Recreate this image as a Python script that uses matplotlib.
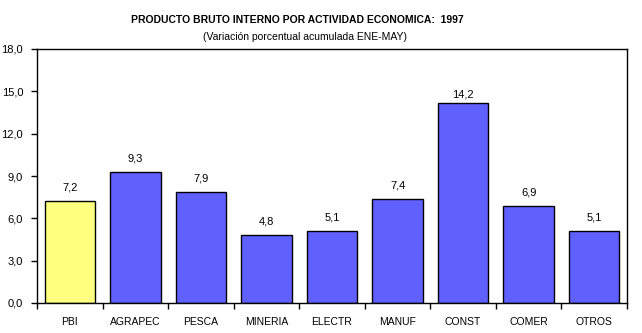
import matplotlib.pyplot as plt
import numpy as np

plt.rcParams['font.family'] = ['Liberation Sans', 'DejaVu Sans']

sectores = ['PBI', 'AGRAPEC', 'PESCA', 'MINERIA', 'ELECTR', 'MANUF', 'CONST', 'COMER', 'OTROS']
variacion = [7.2, 9.3, 7.9, 4.8, 5.1, 7.4, 14.2, 6.9, 5.1]
colores = ['#FFFF80'] + ['#6060FF'] * 8

fig = plt.figure(figsize=(6.42, 3.33), dpi=100)
ax = fig.add_axes([37 / 642, 1 - 303 / 333, 590 / 642, 254 / 333])

x = np.arange(len(sectores))
ax.bar(x, variacion, width=0.77, color=colores, edgecolor='black', linewidth=1.0)

for xi, v in zip(x, variacion):
    # la etiqueta de la barra mas alta va pegada a la barra
    off = 0.2 if v == max(variacion) else 0.6
    ax.text(xi, v + off, f'{v:.1f}'.replace('.', ','), ha='center', va='bottom', fontsize=8)

ax.set_xlim(-0.5, len(sectores) - 0.5)
ax.set_ylim(0, 18)
yt = np.arange(0, 18.1, 3)
ax.set_yticks(yt)
ax.set_yticklabels([f'{t:.1f}'.replace('.', ',') for t in yt], fontsize=8)

# categorias centradas, marcas en los limites entre barras
ax.set_xticks(x)
ax.set_xticklabels(sectores, fontsize=7.5)
ax.tick_params(axis='x', length=0, pad=10)
ax.set_xticks(np.arange(-0.5, len(sectores), 1), minor=True)
ax.tick_params(axis='x', which='minor', length=4, width=1)
ax.tick_params(axis='y', length=4, width=1, pad=6)

for s in ax.spines.values():
    s.set_linewidth(1.0)

fig.text(297 / 642, 1 - 20 / 333, 'PRODUCTO BRUTO INTERNO POR ACTIVIDAD ECONOMICA:  1997',
         ha='center', va='center', fontsize=7.5, fontweight='bold')
fig.text(305 / 642, 1 - 37 / 333, '(Variación porcentual acumulada ENE-MAY)',
         ha='center', va='center', fontsize=7.5)

fig.savefig('out.png', dpi=100)
